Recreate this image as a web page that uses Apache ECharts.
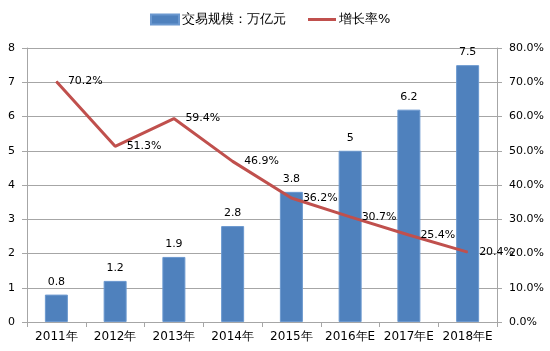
<!DOCTYPE html>
<html>
<head>
<meta charset="utf-8">
<script src="https://cdn.jsdelivr.net/npm/echarts@6/dist/echarts.min.js"></script>
<style>
  html, body { margin: 0; padding: 0; background: #fff; }
  #main { width: 550px; height: 351px; }
</style>
</head>
<body>
<div id="main"></div>
<script>
// chart data
const years = ["2011年", "2012年", "2013年", "2014年", "2015年", "2016年E", "2017年E", "2018年E"];
const scale = [0.8, 1.2, 1.9, 2.8, 3.8, 5, 6.2, 7.5]; // 交易规模：万亿元
const growth = [70.2, 51.3, 59.4, 46.9, 36.2, 30.7, 25.4, 20.4]; // 增长率%

const font = "DejaVu Sans";
const gridColor = "#a6a6a6";

const options = {
  animation: false,
  textStyle: { fontFamily: font },
  legend: {
    top: 8,
    left: 145,
    itemWidth: 28,
    itemHeight: 10,
    itemGap: 22,
    textStyle: { fontSize: 13, color: "#000", padding: [0, 0, 0, -2] },
    data: [
      { name: "交易规模：万亿元", icon: "rect" },
      { name: "增长率%", icon: "path://M0,0 L28,0 L28,3 L0,3 Z" },
    ],
  },
  grid: { left: 27, right: 53, top: 48, bottom: 29 },
  xAxis: {
    type: "category",
    data: years,
    axisLine: { lineStyle: { color: gridColor } },
    axisTick: { show: true, length: 5, lineStyle: { color: gridColor } },
    axisLabel: { color: "#000", fontSize: 12, margin: 9, interval: 0 },
  },
  yAxis: [
    {
      type: "value",
      min: 0,
      max: 8,
      interval: 1,
      axisLine: { show: true, lineStyle: { color: gridColor } },
      axisTick: { show: true, length: 5, lineStyle: { color: gridColor } },
      axisLabel: { color: "#000", fontSize: 11, margin: 12 },
      splitLine: { lineStyle: { color: gridColor } },
    },
    {
      type: "value",
      min: 0,
      max: 80,
      interval: 10,
      position: "right",
      axisLine: { show: true, lineStyle: { color: gridColor } },
      axisTick: { show: true, length: 5, lineStyle: { color: gridColor } },
      axisLabel: {
        color: "#000",
        fontSize: 11,
        margin: 12,
        formatter: (v) => v.toFixed(1) + "%",
      },
      splitLine: { show: false },
    },
  ],
  series: [
    {
      name: "交易规模：万亿元",
      type: "bar",
      data: scale,
      barWidth: 23,
      itemStyle: { color: "#4f81bd", borderColor: "#6b98cf", borderWidth: 1 },
      label: {
        show: true,
        position: "top",
        distance: 7,
        color: "#000",
        fontSize: 11,
      },
    },
    {
      name: "增长率%",
      type: "line",
      yAxisIndex: 1,
      data: growth,
      symbol: "circle",
      symbolSize: 1,
      showSymbol: true,
      lineStyle: { color: "#c0504d", width: 3 },
      itemStyle: { color: "#c0504d" },
      z: 5,
      label: {
        show: true,
        position: "right",
        distance: 11,
        color: "#000",
        fontSize: 11,
        formatter: (p) => p.value.toFixed(1) + "%",
      },
    },
  ],
};

let myChart = echarts.init(document.getElementById("main"));
myChart.setOption(options);
</script>
</body>
</html>
